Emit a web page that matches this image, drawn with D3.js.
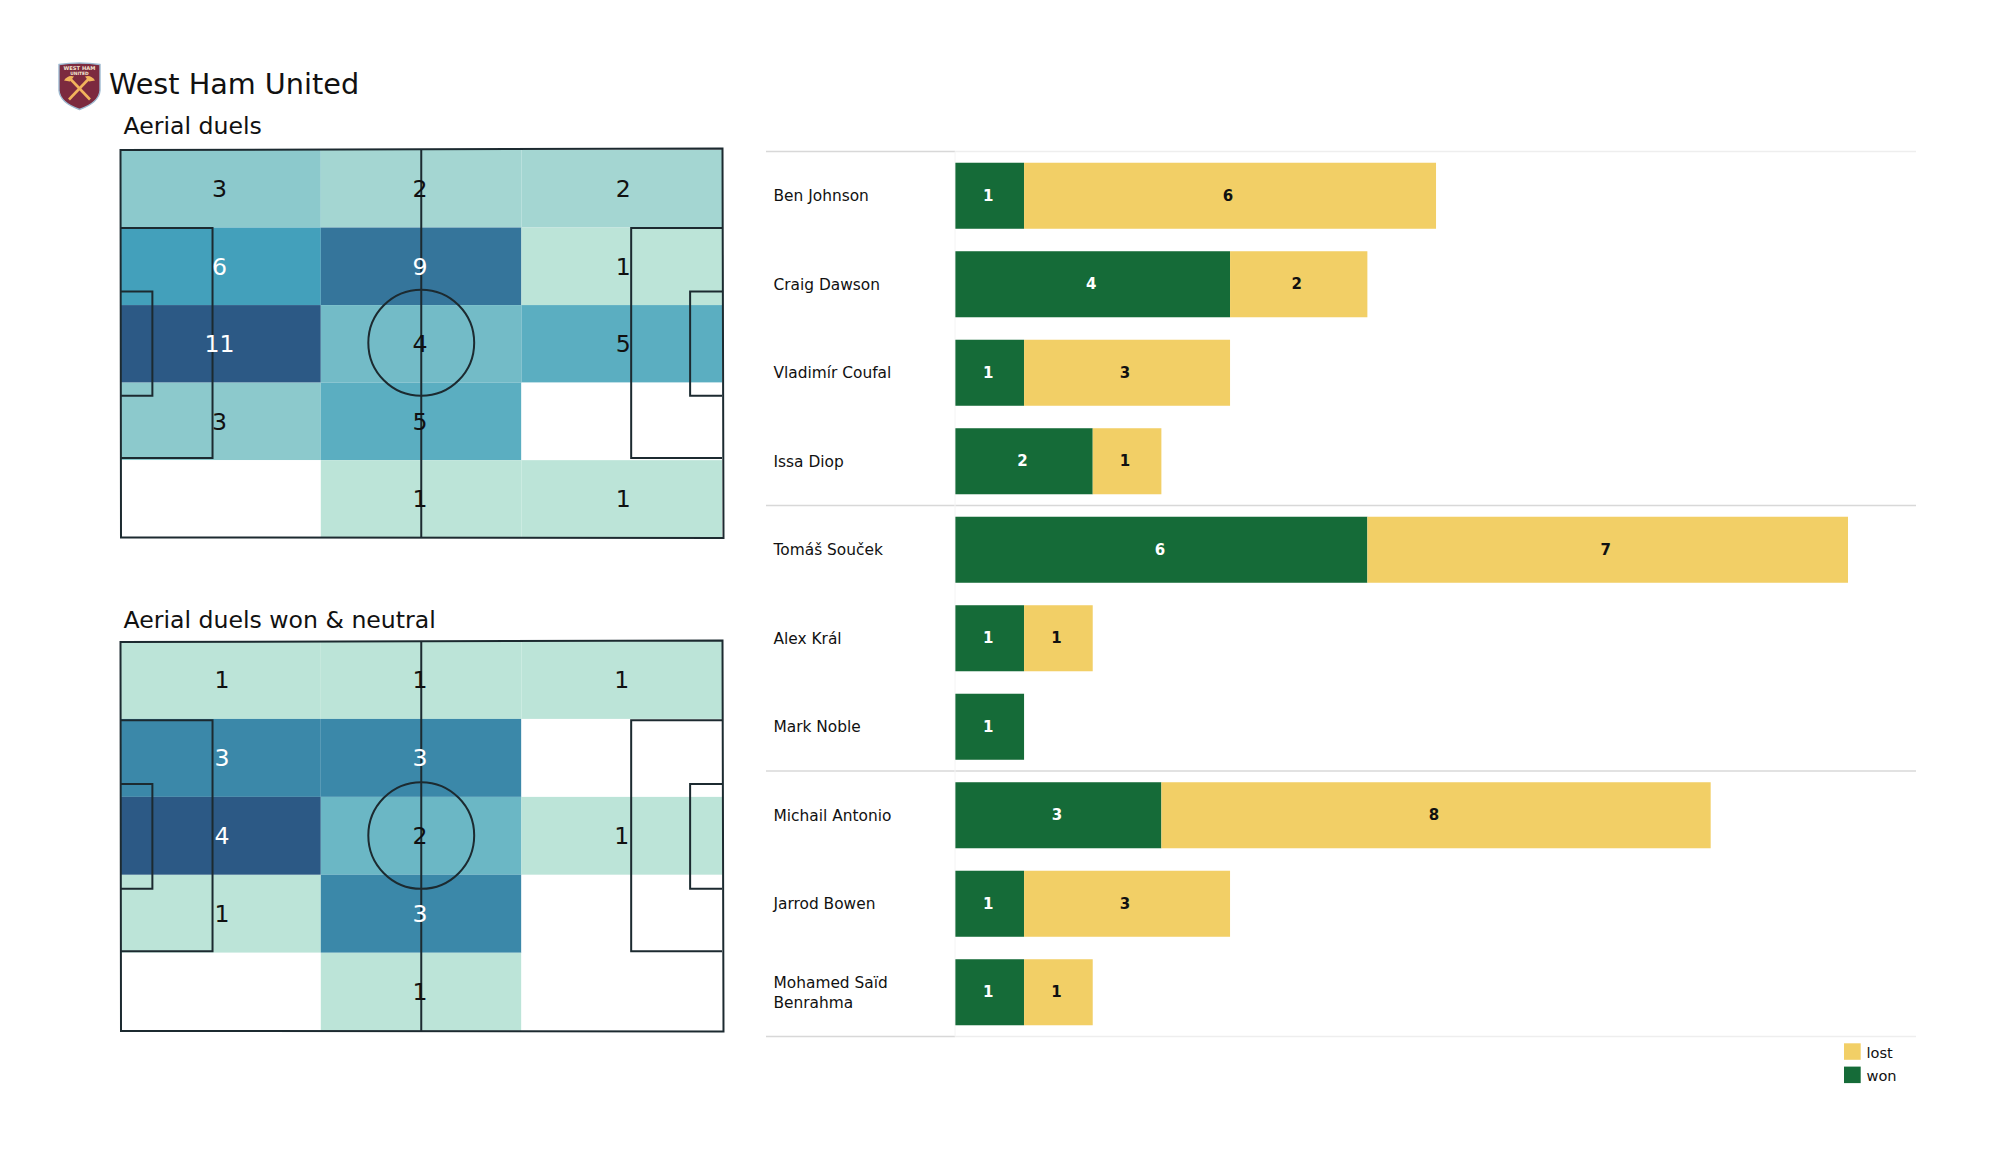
<!DOCTYPE html>
<html><head><meta charset="utf-8">
<script src="https://cdn.jsdelivr.net/npm/d3@7"></script>
<style>html,body{margin:0;padding:0;background:#fff}svg{display:block}text{font-family:"DejaVu Sans",sans-serif}</style>
</head><body><svg id="c" width="2000" height="1175"></svg>
<script>
const teamName = "West Ham United";
const pitchTitles = ["Aerial duels", "Aerial duels won & neutral"];
const heatAll = [[3,2,2],[6,9,1],[11,4,5],[3,5,0],[0,1,1]];
const heatWon = [[1,1,1],[3,3,0],[4,2,1],[1,3,0],[0,1,0]];
const players = ["Ben Johnson","Craig Dawson","Vladimír Coufal","Issa Diop","Tomáš Souček","Alex Král","Mark Noble","Michail Antonio","Jarrod Bowen","Mohamed Saïd Benrahma"];
const won = [1,4,1,2,6,1,1,3,1,1];
const lost = [6,2,3,1,7,1,0,8,3,1];
const groupEnds = [0,4,7,10];
const legendItems = [["lost","#f2cf66"],["won","#156b38"]];
const heatStops = ["#bce4d8","#43a0bb","#2c5985"];

const svg = d3.select("#c");
svg.append("rect").attr("width",2000).attr("height",1175).attr("fill","#fff");

// Title + crest
const crest = svg.append("g").attr("transform","translate(59,62.5)");
crest.append("path").attr("d","M0,2 Q20,-1 41,2 L41,28 Q40,40 20.5,47 Q1,40 0,28 Z").attr("fill","#7c2a3f").attr("stroke","#9db9d0").attr("stroke-width",1.4);
crest.append("text").attr("x",20.5).attr("y",7.5).attr("text-anchor","middle").attr("font-size",5.2).attr("font-weight","bold").attr("fill","#f4e6d0").text("WEST HAM");
crest.append("text").attr("x",20.5).attr("y",12.5).attr("text-anchor","middle").attr("font-size",4.4).attr("font-weight","bold").attr("fill","#f4e6d0").text("UNITED");
[["M10,15 L31,37",["M5,18 Q9,12 15,14 L11,19 Z"]],["M31,15 L10,37",["M36,18 Q32,12 26,14 L30,19 Z"]]].forEach(([d,h])=>{
  crest.append("path").attr("d",d).attr("stroke","#f2b45c").attr("stroke-width",2.6).attr("fill","none");
  crest.append("path").attr("d",h[0]).attr("fill","#f2b45c");
});
svg.append("text").attr("x",109).attr("y",93.5).attr("font-size",28.7).attr("fill","#111").text(teamName);

// Pitches
const colour = (grid)=>{
  const vals = grid.flat().filter(v=>v>0), lo=d3.min(vals), hi=d3.max(vals);
  return d3.scaleLinear().domain([lo,(lo+hi)/2,hi]).range(heatStops);
};
function pitch(grid,title,o){
  const g = svg.append("g");
  g.append("text").attr("x",123.5).attr("y",o.titleY).attr("font-size",23.6).attr("fill","#111").text(title);
  const xs = d3.scaleLinear().domain([0,3]).range([120.2,722]);
  const ys = d3.scaleLinear().domain([0,5]).range([o.top,o.bottom]);
  const col = colour(grid);
  const cells = grid.flatMap((r,i)=>r.map((v,j)=>({v,i,j})));
  g.selectAll("rect.cell").data(cells).join("rect").attr("class","cell")
    .attr("x",d=>xs(d.j)).attr("y",d=>ys(d.i)).attr("width",xs(1)-xs(0)).attr("height",ys(1)-ys(0))
    .attr("fill",d=>d.v>0?col(d.v):"#fff");
  const px = d3.scaleLinear().domain([0,100]).range([120.5,722]);
  const py = d3.scaleLinear().domain([0,100]).range([o.ltop,o.lbottom]);
  const line = g.append("g").attr("fill","none").attr("stroke","#1c2a30").attr("stroke-width",2);
  const box=(a,b,c,d)=>line.append("path").attr("d",`M${px(a)},${py(c)}L${px(b)},${py(c)}L${px(b)},${py(d)}L${px(a)},${py(d)}`);
  box(0,15.3,20.1,79.5); box(0,5.3,36.5,63.4); box(100,84.9,20.1,79.5); box(100,94.7,36.5,63.4);
  line.append("path").attr("d",`M${px(0)},${o.ltop}L${px(100)+.5},${o.ltop-1.5}L${px(100)+1.5},${o.lbottom+.5}L${px(0)+.5},${o.lbottom}Z`);
  line.append("line").attr("x1",px(50)).attr("x2",px(50)).attr("y1",py(0)-1).attr("y2",py(100));
  line.append("ellipse").attr("cx",px(50)).attr("cy",py(50)-1).attr("rx",px(8.8)-px(0)).attr("ry",py(13.7)-py(0));
  g.selectAll("text.num").data(cells.filter(d=>d.v>0)).join("text").attr("class","num")
    .attr("x",d=>xs(d.j+.5)+o.numDx[d.j]).attr("y",d=>ys(d.i+.5)).attr("dy","0.36em").attr("text-anchor","middle")
    .attr("font-size",23.6).attr("fill",d=>(d.v-col.domain()[0])/(col.domain()[2]-col.domain()[0])>0.45?"#fff":"#111").text(d=>d.v);
}
pitch(heatAll,pitchTitles[0],{titleY:134,top:150,bottom:537.7,ltop:150,lbottom:537.5,numDx:[-1,-1,1.5]});
pitch(heatWon,pitchTitles[1],{titleY:628,top:641,bottom:1030.7,ltop:642,lbottom:1031,numDx:[1.5,-1,0]});

// Bars
const x = d3.scaleLinear().domain([0,13]).range([955.4,1848]);
const y = d3.scaleBand().domain(players).range([151.5,1036.5]).paddingInner(0.254).paddingOuter(0.127);
const gb = svg.append("g");
groupEnds.forEach(k=>{
  const ry = 151.5+k*y.step();
  const edge = k===0||k===10;
  gb.append("line").attr("x1",955).attr("x2",1916).attr("y1",ry).attr("y2",ry).attr("stroke",edge?"#eeeeee":"#d8d8d8").attr("stroke-width",1.5);
  gb.append("line").attr("x1",766).attr("x2",955).attr("y1",ry).attr("y2",ry).attr("stroke","#d8d8d8").attr("stroke-width",1.5);
});
gb.append("line").attr("x1",955).attr("x2",955).attr("y1",151.5).attr("y2",1036.5).attr("stroke","#f4f4f4");
const rows = players.map((p,i)=>({p,w:won[i],l:lost[i]}));
gb.selectAll("rect.w").data(rows).join("rect").attr("class","w").attr("x",x(0)).attr("y",d=>y(d.p)).attr("height",y.bandwidth()).attr("width",d=>x(d.w)-x(0)).attr("fill",legendItems[1][1]);
gb.selectAll("rect.l").data(rows.filter(d=>d.l>0)).join("rect").attr("class","l").attr("x",d=>x(d.w)).attr("y",d=>y(d.p)).attr("height",y.bandwidth()).attr("width",d=>x(d.w+d.l)-x(d.w)).attr("fill",legendItems[0][1]);
const lab=(sel,cx,txt,fill)=>sel.attr("x",cx).attr("y",d=>y(d.p)+y.bandwidth()/2-0.5).attr("dy","0.36em").attr("text-anchor","middle").attr("font-size",15).attr("font-weight","bold").attr("fill",fill).text(txt);
lab(gb.selectAll("text.wv").data(rows).join("text").attr("class","wv"),d=>(x(0)+x(d.w))/2-1.5,d=>d.w,"#fff");
lab(gb.selectAll("text.lv").data(rows.filter(d=>d.l>0)).join("text").attr("class","lv"),d=>(x(d.w)+x(d.w+d.l))/2-2,d=>d.l,"#111");

// Player axis
const ax = gb.append("g").attr("transform","translate(955.4,0.7)").call(d3.axisLeft(y).tickSize(0));
ax.select(".domain").remove();
ax.selectAll(".tick text").attr("x",773.5-955.4).attr("text-anchor","start").attr("font-size",15.4).attr("font-family",'"DejaVu Sans",sans-serif').attr("fill","#111")
  .each(function(d){
    if(d.length>20){
      const t=d3.select(this), parts=[d.slice(0,d.lastIndexOf(" ")),d.slice(d.lastIndexOf(" ")+1)];
      t.text(null);
      parts.forEach((s,i)=>t.append("tspan").attr("x",773.5-955.4).attr("y",i?10:-9.5).attr("dy","0.32em").text(s));
    }
  });

// Legend
const lg = svg.append("g");
legendItems.forEach(([n,c],i)=>{
  const ly = 1043.3+i*23.3;
  lg.append("rect").attr("x",1844).attr("y",ly).attr("width",16.7).attr("height",16.5).attr("fill",c);
  lg.append("text").attr("x",1866.5).attr("y",ly+14.2).attr("font-size",14.6).attr("fill","#111").text(n);
});
</script></body></html>
